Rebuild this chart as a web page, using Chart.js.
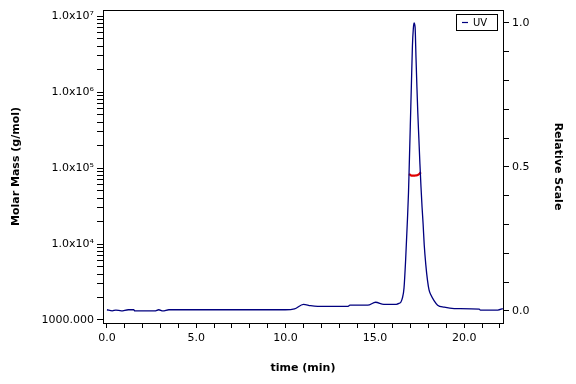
<!DOCTYPE html>
<html>
<head>
<meta charset="utf-8">
<script src="https://cdn.jsdelivr.net/npm/chart.js@4/dist/chart.umd.min.js"></script>
<style>
  html,body{margin:0;padding:0;background:#fff;}
  #wrap{width:576px;height:384px;position:relative;}
</style>
</head>
<body>
<div id="wrap"><canvas id="mainChart"></canvas></div>
<script>
// UV trace (relative scale, right axis)
const uvTime = [0, 0.3, 0.5, 0.8, 1.2, 1.5, 1.56, 2.68, 2.9, 3.13, 3.47, 6.0, 9.1, 9.98, 10.5, 11.0, 11.4, 11.8, 13.5, 13.6, 14.6, 15.04, 15.5, 16.2, 16.35, 16.45, 16.54, 16.63, 16.72, 16.82, 16.88, 16.92, 16.98, 17.04, 17.10, 17.15, 17.19, 17.25, 17.30, 17.35, 17.40, 17.46, 17.52, 17.58, 17.64, 17.70, 17.76, 17.85, 17.94, 18.03, 18.13, 18.31, 18.51, 18.88, 19.44, 20.84, 20.9, 21.88, 22.16];
const uvValue = [0.004, 0.0, 0.003, 0.0, 0.004, 0.004, 0.0, 0.0, 0.004, 0.0, 0.004, 0.004, 0.004, 0.004, 0.007, 0.023, 0.018, 0.016, 0.016, 0.02, 0.02, 0.03, 0.023, 0.023, 0.026, 0.03, 0.045, 0.08, 0.177, 0.316, 0.41, 0.50, 0.64, 0.78, 0.92, 0.98, 1.0, 0.985, 0.88, 0.78, 0.69, 0.60, 0.51, 0.43, 0.36, 0.30, 0.23, 0.16, 0.108, 0.073, 0.056, 0.036, 0.02, 0.013, 0.008, 0.006, 0.003, 0.003, 0.008];

// molar mass across the peak (left log axis)
const massTime = [16.91, 17.0, 17.1, 17.2, 17.3, 17.4, 17.5, 17.57];
const massValue = [83400, 80500, 79300, 79300, 80000, 81000, 84000, 87800];

// tick labels
const massTicks = [1e3, 1e4, 1e5, 1e6, 1e7];
const massLabels = ['1000.000', '1.0x10\u2074', '1.0x10\u2075', '1.0x10\u2076', '1.0x10\u2077'];
const timeLabels = [0, 5, 10, 15, 20];
const relLabels = [0, 0.5, 1.0];

(function(){
  const FONT = 'DejaVu Sans';
  const NAVY = '#00007f';
  const RED = '#e00000';

  function pts(xs, ys){ return xs.map((x,i)=>({x, y:ys[i]})); }

  function logTicks(){
    const out = [];
    for(let d=1e3; d<1e7; d*=10){
      for(let k=1; k<10; k++) out.push({value:d*k});
    }
    out.push({value:1e7});
    return out;
  }

  function stepTicks(from, to, step){
    const out = [];
    const n = Math.round((to-from)/step);
    for(let i=0;i<=n;i++) out.push({value:+(from+i*step).toFixed(4)});
    return out;
  }

  // plot frame + small boxed legend in the top right corner
  const frame = {
    id:'frame',
    afterDraw(chart){
      const {ctx, chartArea:a} = chart;
      ctx.save();
      ctx.strokeStyle = '#000';
      ctx.lineWidth = 1;
      ctx.strokeRect(Math.round(a.left)+0.5, Math.round(a.top)+0.5, Math.round(a.right-a.left), Math.round(a.bottom-a.top));

      const ds = chart.data.datasets[0];
      const bx = Math.round(a.right) - 47, by = Math.round(a.top) + 4;
      ctx.strokeRect(bx+0.5, by+0.5, 41, 16);
      ctx.strokeStyle = ds.borderColor;
      ctx.lineWidth = 1.2;
      ctx.beginPath();
      ctx.moveTo(bx+6, by+8.5);
      ctx.lineTo(bx+12, by+8.5);
      ctx.stroke();
      ctx.fillStyle = '#000';
      ctx.font = '10px "' + FONT + '"';
      ctx.textBaseline = 'middle';
      ctx.fillText(ds.label, bx+17, by+9);
      ctx.restore();
    }
  };

  const tickFont = {family:FONT, size:11};
  const titleFont = {family:FONT, size:11, weight:'bold'};

  new Chart(document.getElementById('mainChart'), {
    type:'line',
    data:{
      datasets:[
        {label:'UV', data:pts(uvTime, uvValue), yAxisID:'y2', borderColor:NAVY, backgroundColor:NAVY, borderWidth:1.3, pointRadius:0, cubicInterpolationMode:'monotone'},
        {label:'Molar Mass', data:pts(massTime, massValue), yAxisID:'y', borderColor:RED, backgroundColor:RED, borderWidth:2.2, pointRadius:0, cubicInterpolationMode:'monotone'}
      ]
    },
    options:{
      responsive:true,
      maintainAspectRatio:false,
      animation:false,
      devicePixelRatio:1,
      layout:{padding:{top:10,right:0,bottom:0,left:0}},
      plugins:{
        legend:{display:false},
        tooltip:{enabled:false}
      },
      scales:{
        x:{
          type:'linear',
          min:-0.22,
          max:22.17,
          afterBuildTicks(s){ s.ticks = stepTicks(0, 22, 1); },
          afterFit(s){ s.height = 61; },
          grid:{drawOnChartArea:false, color:'#000', tickLength:5},
          border:{color:'#000'},
          ticks:{
            color:'#000', font:tickFont, autoSkip:false, maxRotation:0, padding:4,
            callback(v){ return timeLabels.includes(v) ? v.toFixed(1) : ''; }
          },
          title:{display:true, text:'time (min)', color:'#000', font:titleFont, padding:{top:0,bottom:9}}
        },
        y:{
          type:'logarithmic',
          position:'left',
          min:913,
          max:1.2e7,
          afterBuildTicks(s){ s.ticks = logTicks(); },
          afterFit(s){ s.width = 103; },
          grid:{drawOnChartArea:false, color:'#000', tickLength:6},
          border:{color:'#000'},
          ticks:{
            color:'#000', font:tickFont, autoSkip:false, padding:3,
            callback(v){ const i = massTicks.indexOf(v); return i >= 0 ? massLabels[i] : ''; }
          },
          title:{display:true, text:'Molar Mass (g/mol)', color:'#000', font:titleFont, padding:{top:10,bottom:0}}
        },
        y2:{
          type:'linear',
          position:'right',
          min:-0.042,
          max:1.045,
          afterBuildTicks(s){ s.ticks = stepTicks(0, 1, 0.1); },
          afterFit(s){ s.width = 73; },
          grid:{drawOnChartArea:false, color:'#000', tickLength:6},
          border:{color:'#000'},
          ticks:{
            color:'#000', font:tickFont, autoSkip:false, padding:3,
            callback(v){ return relLabels.includes(v) ? v.toFixed(1) : ''; }
          },
          title:{display:true, text:'Relative Scale', color:'#000', font:titleFont, padding:{top:12,bottom:0}}
        }
      }
    },
    plugins:[frame]
  });
})();
</script>
</body>
</html>
